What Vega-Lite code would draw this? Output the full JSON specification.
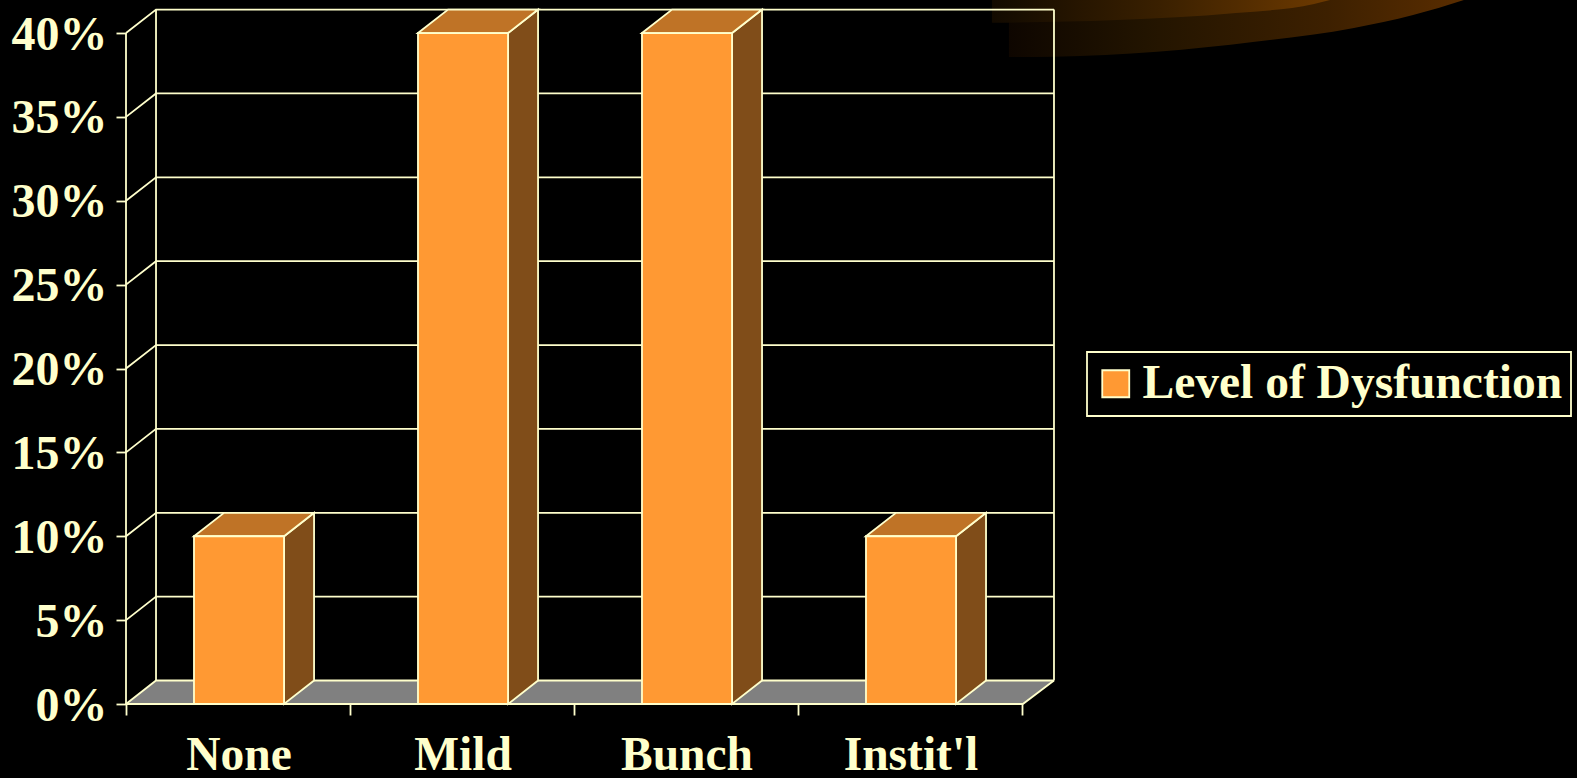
{"$schema":"https://vega.github.io/schema/vega-lite/v6.json","width":1451,"height":704,"padding":{"left":126,"top":0,"right":0,"bottom":74},"autosize":{"type":"none"},"background":"#000000","config":{"view":{"stroke":null},"legend":{"strokeWidth":1.8}},"datasets":{"bars":[{"category":"None","value":10,"series":"Level of Dysfunction"},{"category":"Mild","value":40,"series":"Level of Dysfunction"},{"category":"Bunch","value":40,"series":"Level of Dysfunction"},{"category":"Instit'l","value":10,"series":"Level of Dysfunction"}],"glowOuter":[{"u":3.942,"top":41.97,"bottom":38.57},{"u":4.143,"top":41.97,"bottom":38.59},{"u":4.603,"top":41.97,"bottom":38.88},{"u":5.04,"top":41.97,"bottom":39.48},{"u":5.482,"top":41.97,"bottom":40.3},{"u":5.746,"top":41.97,"bottom":41.07},{"u":5.973,"top":41.97,"bottom":41.97}],"glowInner":[{"u":3.866,"top":41.97,"bottom":40.61},{"u":4.424,"top":41.97,"bottom":40.78},{"u":4.955,"top":41.97,"bottom":41.19},{"u":5.304,"top":41.97,"bottom":41.73},{"u":5.375,"top":41.97,"bottom":41.97}],"floor":[{"u":0,"y":0,"y2":0},{"u":0.134,"y":1.4,"y2":0},{"u":4.004,"y":1.4,"y2":0},{"u":4.143,"y":1.4,"y2":1.4}],"frame":[{"p":"g0","u":0,"y":0},{"p":"g0","u":0.134,"y":1.4},{"p":"g0","u":4.143,"y":1.4},{"p":"g5","u":0,"y":5},{"p":"g5","u":0.134,"y":6.4},{"p":"g5","u":4.143,"y":6.4},{"p":"g10","u":0,"y":10},{"p":"g10","u":0.134,"y":11.4},{"p":"g10","u":4.143,"y":11.4},{"p":"g15","u":0,"y":15},{"p":"g15","u":0.134,"y":16.4},{"p":"g15","u":4.143,"y":16.4},{"p":"g20","u":0,"y":20},{"p":"g20","u":0.134,"y":21.4},{"p":"g20","u":4.143,"y":21.4},{"p":"g25","u":0,"y":25},{"p":"g25","u":0.134,"y":26.4},{"p":"g25","u":4.143,"y":26.4},{"p":"g30","u":0,"y":30},{"p":"g30","u":0.134,"y":31.4},{"p":"g30","u":4.143,"y":31.4},{"p":"g35","u":0,"y":35},{"p":"g35","u":0.134,"y":36.4},{"p":"g35","u":4.143,"y":36.4},{"p":"g40","u":0,"y":40},{"p":"g40","u":0.134,"y":41.4},{"p":"g40","u":4.143,"y":41.4},{"p":"left","u":0,"y":0},{"p":"left","u":0,"y":40},{"p":"back","u":0.134,"y":1.4},{"p":"back","u":0.134,"y":41.4},{"p":"right","u":4.143,"y":1.4},{"p":"right","u":4.143,"y":41.4},{"p":"front","u":0,"y":0},{"p":"front","u":4.004,"y":0},{"p":"front","u":4.143,"y":1.4}],"sides":[{"k":"None","u":0.7056,"y":10,"y2":0},{"k":"None","u":0.8396,"y":11.4,"y2":1.4},{"k":"Mild","u":1.7056,"y":40,"y2":0},{"k":"Mild","u":1.8396,"y":41.4,"y2":1.4},{"k":"Bunch","u":2.7056,"y":40,"y2":0},{"k":"Bunch","u":2.8396,"y":41.4,"y2":1.4},{"k":"Instit'l","u":3.7056,"y":10,"y2":0},{"k":"Instit'l","u":3.8396,"y":11.4,"y2":1.4}],"tops":[{"k":"None","u":0.3036,"y":10,"y2":10},{"k":"None","u":0.4376,"y":11.4,"y2":10},{"k":"None","u":0.7056,"y":11.4,"y2":10},{"k":"None","u":0.8396,"y":11.4,"y2":11.4},{"k":"Mild","u":1.3036,"y":40,"y2":40},{"k":"Mild","u":1.4376,"y":41.4,"y2":40},{"k":"Mild","u":1.7056,"y":41.4,"y2":40},{"k":"Mild","u":1.8396,"y":41.4,"y2":41.4},{"k":"Bunch","u":2.3036,"y":40,"y2":40},{"k":"Bunch","u":2.4376,"y":41.4,"y2":40},{"k":"Bunch","u":2.7056,"y":41.4,"y2":40},{"k":"Bunch","u":2.8396,"y":41.4,"y2":41.4},{"k":"Instit'l","u":3.3036,"y":10,"y2":10},{"k":"Instit'l","u":3.4376,"y":11.4,"y2":10},{"k":"Instit'l","u":3.7056,"y":11.4,"y2":10},{"k":"Instit'l","u":3.8396,"y":11.4,"y2":11.4}]},"resolve":{"scale":{"x":"independent"},"axis":{"x":"independent","y":"independent"}},"layer":[{"data":{"name":"glowOuter"},"mark":{"type":"area","interpolate":"monotone","color":{"gradient":"linear","x1":0,"x2":1,"y1":0,"y2":0,"stops":[{"offset":0,"color":"#0e0600"},{"offset":0.3,"color":"#221400"},{"offset":0.7,"color":"#3d2000"},{"offset":1,"color":"#5a2d00"}]}},"encoding":{"x":{"field":"u","type":"quantitative","axis":null,"scale":{"domain":[0,6.478],"nice":false,"zero":false}},"y":{"field":"top","type":"quantitative","axis":null,"scale":{"domain":[0,41.97],"nice":false}},"y2":{"field":"bottom"}}},{"data":{"name":"glowInner"},"mark":{"type":"area","interpolate":"monotone","color":{"gradient":"linear","x1":0,"x2":1,"y1":0,"y2":0,"stops":[{"offset":0,"color":"#120a00"},{"offset":0.5,"color":"#3a2000"},{"offset":1,"color":"#6e3a00"}]}},"encoding":{"x":{"field":"u","type":"quantitative","axis":null,"scale":{"domain":[0,6.478],"nice":false,"zero":false}},"y":{"field":"top","type":"quantitative","axis":null,"scale":{"domain":[0,41.97],"nice":false}},"y2":{"field":"bottom"}}},{"data":{"name":"floor"},"mark":{"type":"area","color":"#808080"},"encoding":{"x":{"field":"u","type":"quantitative","axis":null,"scale":{"domain":[0,6.478],"nice":false,"zero":false}},"y":{"field":"y","type":"quantitative","axis":null,"scale":{"domain":[0,41.97],"nice":false}},"y2":{"field":"y2"}}},{"data":{"name":"frame"},"mark":{"type":"line","color":"#FFFFCC","strokeWidth":1.8},"encoding":{"x":{"field":"u","type":"quantitative","scale":{"domain":[0,6.478],"nice":false,"zero":false},"axis":{"orient":"bottom","title":null,"domain":false,"grid":false,"values":[0,1,2,3,4],"labels":false,"tickColor":"#FFFFCC","tickWidth":1.8,"tickSize":11}},"y":{"field":"y","type":"quantitative","axis":null,"scale":{"domain":[0,41.97],"nice":false}},"detail":{"field":"p"},"order":{"field":"u"}}},{"data":{"name":"sides"},"mark":{"type":"area","color":"#804D19","stroke":"#FFFFCC","strokeWidth":1.8},"encoding":{"x":{"field":"u","type":"quantitative","axis":null,"scale":{"domain":[0,6.478],"nice":false,"zero":false}},"y":{"field":"y","type":"quantitative","axis":null,"scale":{"domain":[0,41.97],"nice":false}},"y2":{"field":"y2"},"detail":{"field":"k"}}},{"data":{"name":"tops"},"mark":{"type":"area","color":"#BF7326","stroke":"#FFFFCC","strokeWidth":1.8},"encoding":{"x":{"field":"u","type":"quantitative","axis":null,"scale":{"domain":[0,6.478],"nice":false,"zero":false}},"y":{"field":"y","type":"quantitative","axis":null,"scale":{"domain":[0,41.97],"nice":false}},"y2":{"field":"y2"},"detail":{"field":"k"}}},{"data":{"name":"bars"},"mark":{"type":"bar","stroke":"#FFFFCC","strokeWidth":1.8},"encoding":{"x":{"field":"category","type":"nominal","sort":null,"scale":{"range":[1,897],"paddingInner":0.598,"paddingOuter":0.299},"axis":{"orient":"bottom","title":null,"domain":false,"ticks":false,"tickSize":0,"labelAngle":0,"labelFont":"Liberation Serif","labelFontWeight":"bold","labelFontSize":47.5,"labelColor":"#FFFFCC","labelPadding":27,"grid":false}},"y":{"field":"value","type":"quantitative","scale":{"domain":[0,41.97],"nice":false},"axis":{"orient":"left","title":null,"domain":false,"grid":false,"values":[0,5,10,15,20,25,30,35,40],"labelExpr":"datum.value + '%'","tickColor":"#FFFFCC","tickWidth":1.8,"tickSize":10,"labelFont":"Liberation Serif","labelFontWeight":"bold","labelFontSize":48,"labelColor":"#FFFFCC","labelPadding":9,"labelOffset":2}},"color":{"field":"series","type":"nominal","scale":{"range":["#FF9933"]},"legend":{"title":null,"orient":"none","legendX":961,"legendY":352,"padding":8,"strokeColor":"#FFFFCC","symbolType":"square","symbolSize":729,"symbolOffset":-3,"labelOffset":3,"symbolStrokeColor":"#FFFFCC","symbolStrokeWidth":1.8,"labelFont":"Liberation Serif","labelFontWeight":"bold","labelFontSize":47.5,"labelColor":"#FFFFCC","labelLimit":600}}}}]}
